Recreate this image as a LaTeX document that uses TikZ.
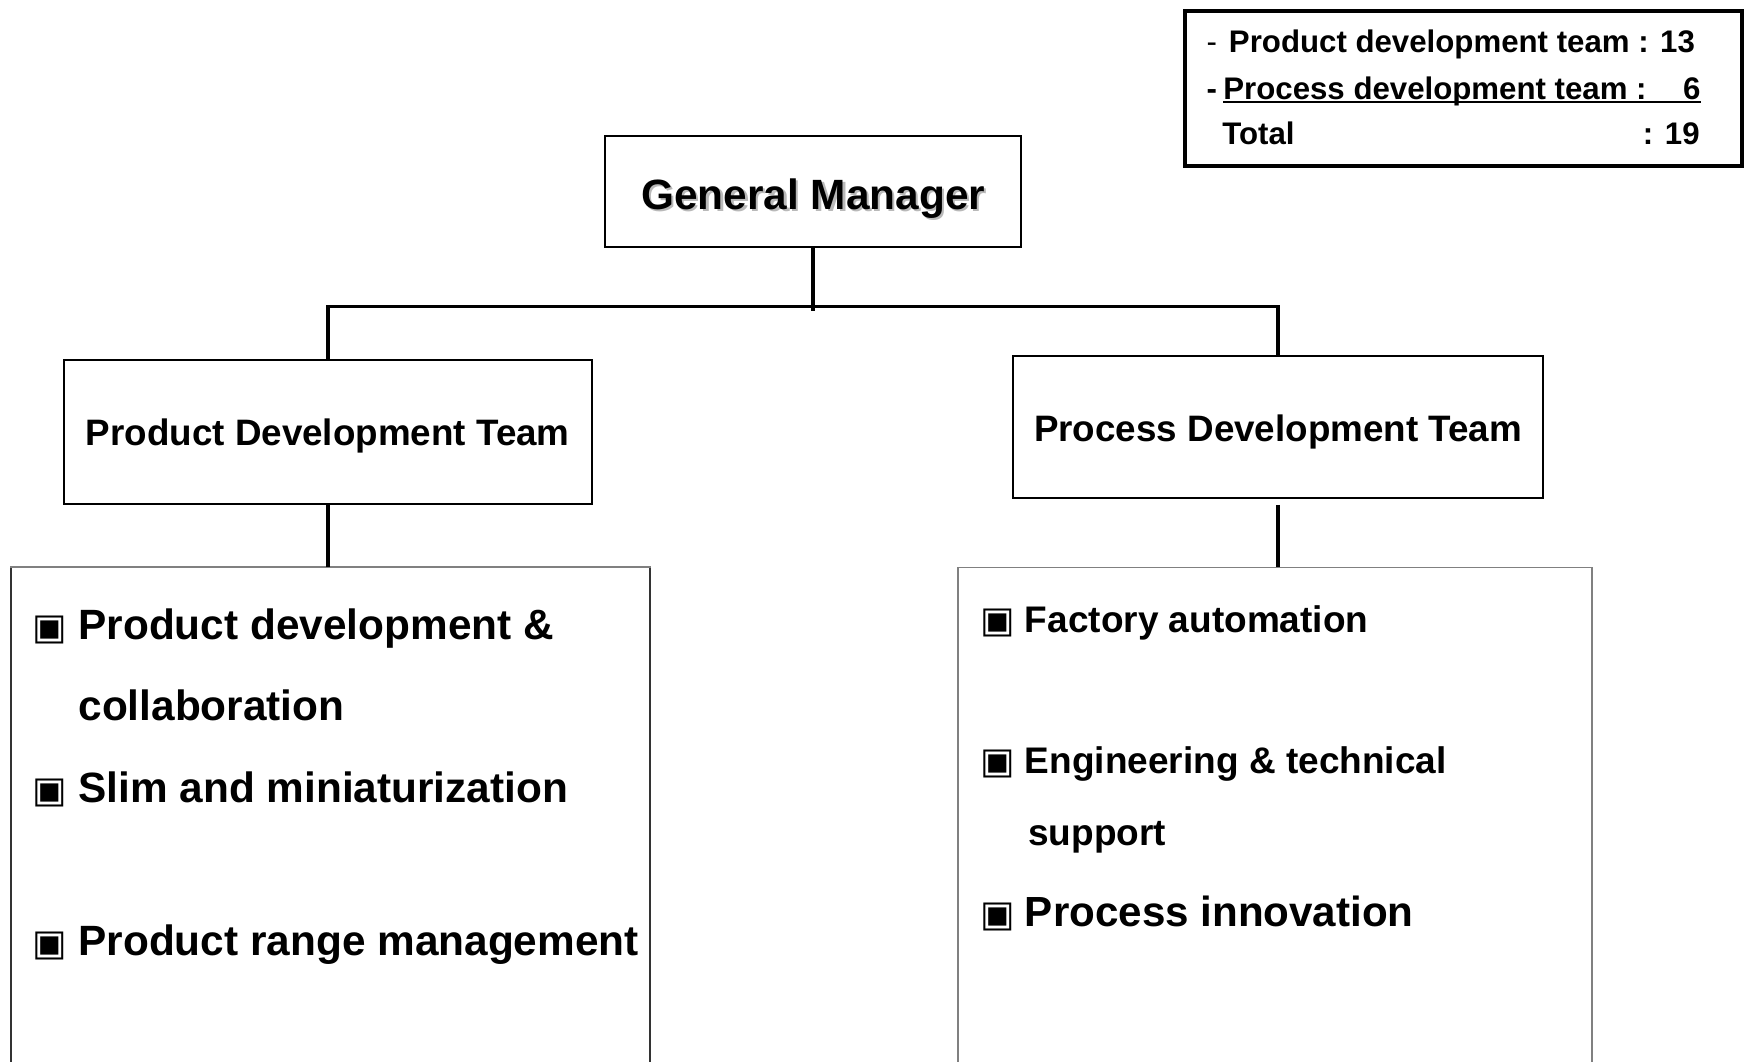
\documentclass[tikz,border=0pt]{standalone}
\usepackage{fontspec}
\setmainfont{Liberation Sans}
\newfontfamily\symfont{DejaVu Sans}

\newcommand{\bul}{{\symfont\fontsize{16.4}{16}\selectfont ▣}}
\newcommand{\shadowed}[1]{\rlap{\hspace{1pt}\raisebox{-1pt}{\textcolor{gray!55}{#1}}}#1}

\begin{document}
\begin{tikzpicture}[x=0.5pt, y=-0.5pt,
    box/.style={draw, line width=0.9pt, inner sep=0pt},
    listbox/.style={draw=gray, line width=0.8pt, inner sep=0pt},
    link/.style={line width=1.6pt},
    infotxt/.style={inner sep=0pt, font=\bfseries\fontsize{14}{16}\selectfont},
    ltxt/.style={inner sep=0pt, anchor=base west, font=\bfseries\fontsize{19}{22}\selectfont},
    rtxt/.style={inner sep=0pt, anchor=base west, font=\bfseries\fontsize{16.6}{19}\selectfont}]
  \useasboundingbox (0,0) rectangle (1568,952);

  % Staff count
  \node[draw, line width=1.8pt, minimum width=250pt, minimum height=69.5pt, inner sep=0pt] (info) at (1313,79.5) {};
  \node[infotxt, anchor=base west] (n1) at (1082,47) {\makebox[10pt][l]{\mdseries -}Product development team : 13};
  \node[infotxt, anchor=base west] (n2) at (1082,89) {\makebox[7.5pt][l]{-}\makebox[214pt][l]{Process development team :\hfill 6}\llap{\rule[-1.8pt]{214pt}{0.9pt}}};
  \node[infotxt, anchor=base west] (n3) at (1096,130) {Total};
  \node[infotxt, anchor=base east] (n3v) at (1525,130) {: 19};

  % Manager
  \node[box, minimum width=186.5pt, minimum height=50pt, text height=15.5pt, text depth=0pt,
        font=\bfseries\fontsize{19}{22}\selectfont] (gm) at (729.5,172) {\shadowed{General Manager}};

  % Teams
  \node[box, minimum width=237pt, minimum height=64.5pt, text height=12.3pt, text depth=0pt,
        font=\bfseries\fontsize{16.5}{19}\selectfont] (prod) at (294,387.5) {Product Development Team};
  \node[box, minimum width=237.5pt, minimum height=64pt, text height=12.8pt, text depth=0pt,
        font=\bfseries\fontsize{16.5}{19}\selectfont] (proc) at (1146.5,383) {Process Development Team};

  % Task lists
  \node[listbox, draw=black!80, line width=0.6pt, minimum width=286.5pt, minimum height=245pt] (plist) at (296.5,754) {};
  \draw[gray, line width=0.8pt] (plist.north west) -- (plist.north east);
  \node[listbox, minimum width=284.5pt, minimum height=245pt] (qlist) at (1143.5,754) {};

  % Links
  \coordinate (bus) at (732,275);
  \draw[link] (gm.south) -- ++(0,56);
  \draw[link] (prod.north) -- (prod.north |- bus) -- (proc.north |- bus) -- (proc.north);
  \draw[link] (prod.south) -- (prod.south |- plist.north);
  \draw[link, shorten <=2.5pt] (proc.south) -- (proc.south |- qlist.north);

  % Product items
  \node[ltxt] (p1a) at (29,574) {\makebox[20.5pt][l]{\bul}Product development \&};
  \node[ltxt] (p1b) at (70,646) {collaboration};
  \node[ltxt] (p2) at (29,720) {\makebox[20.5pt][l]{\bul}Slim and miniaturization};
  \node[ltxt] (p3) at (29,857) {\makebox[20.5pt][l]{\bul}Product range management};

  % Process items
  \node[rtxt] (q1) at (879,567) {\makebox[20pt][l]{\bul}Factory automation};
  \node[rtxt] (q2a) at (879,693.5) {\makebox[20pt][l]{\bul}Engineering \& technical};
  \node[rtxt] (q2b) at (922,758) {support};
  \node[rtxt, font=\bfseries\fontsize{18.9}{22}\selectfont] (q3) at (879,831.5) {\makebox[20pt][l]{\bul}Process innovation};
\end{tikzpicture}
\end{document}
